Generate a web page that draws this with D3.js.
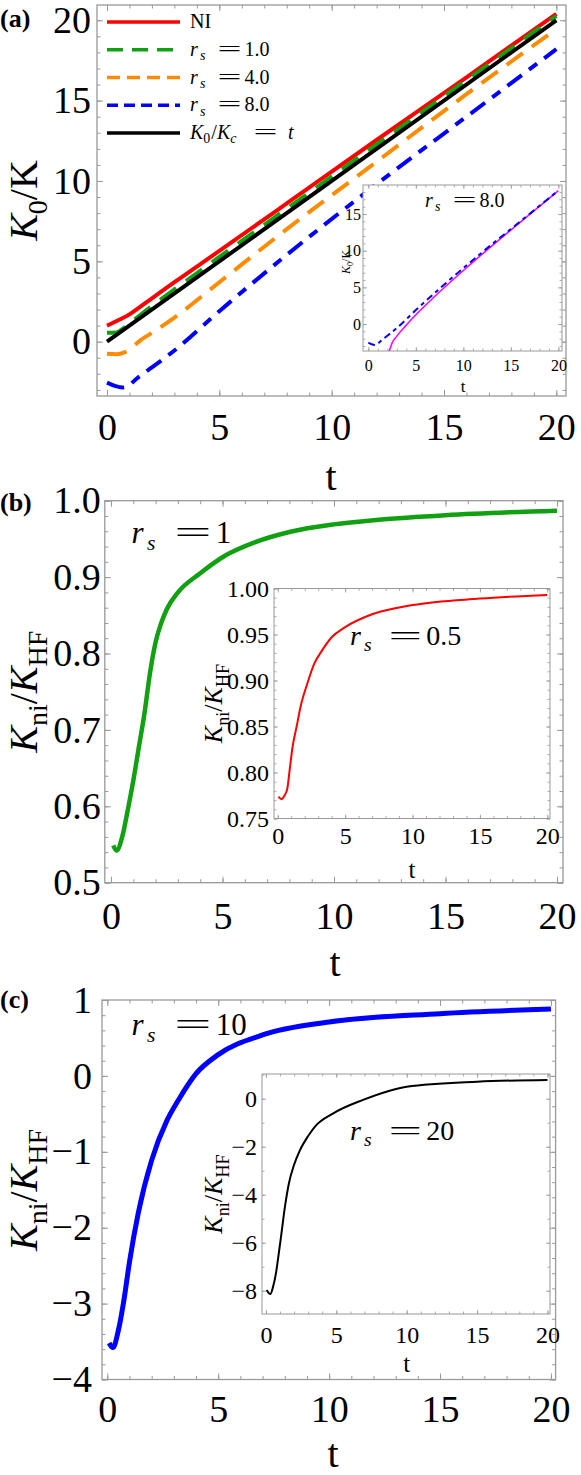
<!DOCTYPE html>
<html>
<head>
<meta charset="utf-8">
<script src="https://cdn.jsdelivr.net/npm/d3@7"></script>
<style>
  body { margin: 0; background: #fff; }
  text { font-family: "Liberation Serif", "Times New Roman", serif; }
</style>
</head>
<body>
<svg id="fig" width="581" height="1475" font-family="Liberation Serif"></svg>
<script>
// ---- data ----
// panel (a): K0/K versus t
const niT  = [0, 0.5, 1, 1.5, 2, 3, 5, 8, 12, 16, 20];
const niK  = [1.0, 1.33, 1.7, 2.2, 2.7, 3.7, 5.65, 8.6, 12.55, 16.45, 20.4];
const rs1T = [0, 0.4, 0.8, 1.2, 1.6, 2, 3, 5, 8, 12, 16, 20];
const rs1K = [0.55, 0.57, 0.9, 1.35, 1.8, 2.22, 3.25, 5.27, 8.27, 12.27, 16.27, 20.27];
const rs4T = [0, 0.4, 0.8, 1.2, 1.5, 2, 3, 5, 8, 12, 16, 20];
const rs4K = [-0.75, -0.78, -0.65, -0.25, 0.1, 0.55, 1.5, 3.7, 7.0, 11.2, 15.4, 19.45];
const rs8T = [0, 0.35, 0.7, 1.0, 1.25, 1.6, 2, 3, 5, 8, 12, 16, 20];
const rs8K = [-2.55, -2.75, -2.85, -2.7, -2.38, -2.0, -1.6, -0.55, 1.9, 5.4, 9.8, 14.0, 18.2];
const diagT = [0, 20];
const diagK = [0, 20];
// inset (a): magenta comparison curve for rs = 8
const magT = [2.2, 2.5, 3, 4, 5, 7, 10, 13, 16, 20];
const magK = [-3.7, -2.6, -1.65, -0.15, 1.25, 3.78, 7.3, 10.65, 13.9, 18.2];
// panel (b): Kni/KHF, rs = 1 and inset rs = 0.5
const bT = [0.1, 0.25, 0.5, 0.75, 1.0, 1.25, 1.5, 1.75, 2.0, 2.25, 2.5, 3, 4, 5, 6.5, 8, 10, 12, 15, 20];
const bK = [0.549, 0.542, 0.56, 0.595, 0.634, 0.678, 0.722, 0.775, 0.815, 0.84, 0.858, 0.88, 0.905, 0.926, 0.946, 0.959, 0.969, 0.975, 0.981, 0.987];
const bInT = [0.05, 0.27, 0.5, 0.7, 0.9, 1.1, 1.4, 1.7, 2.2, 2.7, 3.3, 4, 5, 7, 10, 15, 20];
const bInK = [0.7737, 0.771, 0.775, 0.782, 0.805, 0.828, 0.85, 0.872, 0.897, 0.918, 0.933, 0.947, 0.958, 0.972, 0.982, 0.989, 0.993];
// panel (c): Kni/KHF, rs = 10 and inset rs = 20
const cT = [0.08, 0.25, 0.5, 0.75, 1.0, 1.4, 2.0, 2.7, 3.2, 4, 5, 7, 10, 15, 20];
const cK = [-3.52, -3.58, -3.35, -2.95, -2.45, -1.8, -1.11, -0.58, -0.32, 0.03, 0.28, 0.54, 0.71, 0.82, 0.88];
const cInT = [0.05, 0.31, 0.5, 0.71, 0.9, 1.1, 1.35, 1.63, 2, 2.42, 3, 3.47, 4.79, 6.9, 10, 15, 20];
const cInK = [-7.97, -8.14, -7.85, -7.28, -6.5, -5.62, -4.5, -3.53, -2.75, -2.14, -1.55, -1.17, -0.61, -0.05, 0.5, 0.71, 0.78];

const tMajor = [0, 5, 10, 15, 20];
const tMinor = d3.range(0, 21, 1);

const svg = d3.select("#fig");
const GRAY = "#999";
let clipId = 0;

// sets up a framed Mathematica-style plot; returns scales and a clipped layer
function framePlot(p) {
  const g = svg.append("g");
  const x = d3.scaleLinear().domain(p.xd).range([p.x0, p.x1]);
  const y = d3.scaleLinear().domain(p.yd).range([p.y1, p.y0]);

  g.append("rect")
    .attr("x", p.x0).attr("y", p.y0)
    .attr("width", p.x1 - p.x0).attr("height", p.y1 - p.y0)
    .attr("fill", "#fff");

  const sides = [
    ["bottom", p.y1, "x", true],
    ["top", p.y0, "x", false],
    ["left", p.x0, "y", true],
    ["right", p.x1, "y", false]
  ];
  const make = { bottom: d3.axisBottom, top: d3.axisTop, left: d3.axisLeft, right: d3.axisRight };
  sides.forEach(([side, pos, dir, labelled]) => {
    const sc = dir === "x" ? x : y;
    const major = dir === "x" ? p.xMajor : p.yMajor;
    const minor = dir === "x" ? p.xMinor : p.yMinor;
    const tr = dir === "x" ? `translate(0,${pos})` : `translate(${pos},0)`;
    // minor ticks
    const gm = g.append("g").attr("transform", tr)
      .call(make[side](sc).tickValues(minor).tickSize(-p.minorLen).tickFormat(""));
    gm.select(".domain").remove();
    gm.selectAll("line").attr("stroke", GRAY).attr("stroke-width", p.tickW);
    // major ticks (+ labels on left / bottom)
    const ax = make[side](sc)
      .tickValues(major).tickSize(-p.majorLen)
      .tickPadding(dir === "x" ? p.xPad : p.yPad)
      .tickFormat(labelled ? d3.format(dir === "x" ? "d" : p.yFmt) : "");
    const gM = g.append("g").attr("transform", tr).call(ax);
    gM.select(".domain").remove();
    gM.attr("font-family", "Liberation Serif").attr("font-size", p.fs);
    gM.selectAll("line").attr("stroke", GRAY).attr("stroke-width", p.tickW);
    gM.selectAll("text").attr("fill", "#000");
  });

  g.append("rect")
    .attr("x", p.x0).attr("y", p.y0)
    .attr("width", p.x1 - p.x0).attr("height", p.y1 - p.y0)
    .attr("fill", "none").attr("stroke", GRAY).attr("stroke-width", p.frameW);

  const id = "clip" + (clipId++);
  svg.append("clipPath").attr("id", id).append("rect")
    .attr("x", p.x0).attr("y", p.y0)
    .attr("width", p.x1 - p.x0).attr("height", p.y1 - p.y0);
  const layer = g.append("g").attr("clip-path", `url(#${id})`);
  return { g, x, y, layer };
}

function curve(plot, ts, ks, color, width, dash) {
  const line = d3.line()
    .x(d => plot.x(d[0])).y(d => plot.y(d[1]))
    .curve(d3.curveMonotoneX);
  plot.layer.append("path")
    .attr("d", line(d3.zip(ts, ks)))
    .attr("fill", "none").attr("stroke", color)
    .attr("stroke-width", width)
    .attr("stroke-dasharray", dash || null)
    .attr("stroke-linejoin", "round");
}

// "r_s = value" with Mathematica's wide equals sign
function rsLabel(g, x, y, F, value) {
  g.append("text").attr("x", x).attr("y", y).attr("font-size", F)
    .attr("font-style", "italic").text("r");
  g.append("text").attr("x", x + 0.5 * F).attr("y", y + 0.22 * F)
    .attr("font-size", 0.7 * F).attr("font-style", "italic").text("s");
  g.append("text").attr("x", x + 1.38 * F).attr("y", y).attr("font-size", F)
    .attr("textLength", 1.2 * F).attr("lengthAdjust", "spacingAndGlyphs").text("=");
  g.append("text").attr("x", x + 2.72 * F).attr("y", y).attr("font-size", F).text(value);
}

// K_ni / K_HF (rotated y title)
function kniTitle(x, y, F) {
  const t = svg.append("text")
    .attr("transform", `translate(${x},${y}) rotate(-90)`)
    .attr("text-anchor", "middle").attr("font-size", F);
  t.append("tspan").attr("font-style", "italic").text("K");
  t.append("tspan").attr("font-size", 0.7 * F).attr("dy", 0.25 * F).text("ni");
  t.append("tspan").attr("dy", -0.25 * F).text("/");
  t.append("tspan").attr("font-style", "italic").text("K");
  t.append("tspan").attr("font-size", 0.7 * F).attr("dy", 0.25 * F).text("HF");
}

function k0Title(x, y, F) {
  const t = svg.append("text")
    .attr("transform", `translate(${x},${y}) rotate(-90)`)
    .attr("text-anchor", "middle").attr("font-size", F);
  t.append("tspan").attr("font-style", "italic").text("K");
  t.append("tspan").attr("font-size", 0.7 * F).attr("dy", 0.25 * F).text("0");
  t.append("tspan").attr("dy", -0.25 * F).text("/K");
}

function tTitle(x, y, F) {
  svg.append("text").attr("x", x).attr("y", y).attr("font-size", F)
    .attr("text-anchor", "middle").text("t");
}

function panelTag(x, y, txt) {
  svg.append("text").attr("x", x).attr("y", y).attr("font-size", 26)
    .attr("font-weight", "bold").text(txt);
}

const mainStyle = { majorLen: 6, minorLen: 3.5, tickW: 1, frameW: 1.3, fs: 38 };
const insetStyle = { majorLen: 4, minorLen: 2.5, tickW: 0.8, frameW: 1, fs: 24 };

// ---------------- panel (a) ----------------
const pa = framePlot(Object.assign({}, mainStyle, {
  x0: 97, x1: 566, y0: 5, y1: 396,
  xd: [-0.445, 20.43], yd: [-3.38, 20.95],
  xMajor: tMajor, xMinor: tMinor,
  yMajor: [0, 5, 10, 15, 20], yMinor: d3.range(-3, 21, 1),
  xPad: 17, yPad: 6, yFmt: "d"
}));
curve(pa, niT, niK, "#ff0000", 4);
curve(pa, rs1T, rs1K, "#11a011", 4, "20,12");
curve(pa, rs4T, rs4K, "#ff8c00", 4, "20,11");
curve(pa, rs8T, rs8K, "#0000ff", 4, "18,9,10,9");
curve(pa, diagT, diagK, "#000", 4);

// legend
const legendItems = [
  { color: "#ff0000", dash: null },
  { color: "#11a011", dash: "16,9" },
  { color: "#ff8c00", dash: "13,7" },
  { color: "#0000ff", dash: "11,6" },
  { color: "#000", dash: null }
];
const legY = d3.scalePoint().domain(d3.range(5)).range([22, 133]);
legendItems.forEach((it, i) => {
  pa.g.append("line")
    .attr("x1", 107).attr("x2", 180).attr("y1", legY(i)).attr("y2", legY(i))
    .attr("stroke", it.color).attr("stroke-width", 3.5)
    .attr("stroke-dasharray", it.dash);
});
pa.g.append("text").attr("x", 190).attr("y", legY(0) + 6).attr("font-size", 20).text("NI");
rsLabel(pa.g, 190, legY(1) + 6, 20, "1.0");
rsLabel(pa.g, 190, legY(2) + 6, 20, "4.0");
rsLabel(pa.g, 190, legY(3) + 6, 20, "8.0");
{
  const F = 20, x = 190, y = legY(4) + 6;
  const t = pa.g.append("text").attr("x", x).attr("y", y).attr("font-size", F);
  t.append("tspan").attr("font-style", "italic").text("K");
  t.append("tspan").attr("font-size", 0.7 * F).attr("dy", 0.22 * F).text("0");
  t.append("tspan").attr("dy", -0.22 * F).attr("dx", 1).text("/");
  t.append("tspan").attr("font-style", "italic").text("K");
  t.append("tspan").attr("font-style", "italic").attr("font-size", 0.7 * F).attr("dy", 0.22 * F).text("c");
  pa.g.append("text").attr("x", x + 3.17 * F).attr("y", y).attr("font-size", F)
    .attr("textLength", 1.2 * F).attr("lengthAdjust", "spacingAndGlyphs").text("=");
  pa.g.append("text").attr("x", x + 4.9 * F).attr("y", y).attr("font-size", F)
    .attr("font-style", "italic").text("t");
}

// inset (a)
const pai = framePlot(Object.assign({}, insetStyle, {
  x0: 363, x1: 562, y0: 185, y1: 351,
  xd: [-0.56, 20.38], yd: [-3.68, 18.96],
  xMajor: tMajor, xMinor: tMinor,
  yMajor: [0, 5, 10, 15], yMinor: d3.range(-3, 19, 1),
  xPad: 9, yPad: 2, yFmt: "d", fs: 16
}));
curve(pai, magT, magK, "#ff00ff", 1.5);
curve(pai, rs8T, rs8K, "#0000ff", 2, "7,4,4,4");
rsLabel(pai.g, 425, 207, 20, "8.0");

panelTag(0, 27, "(a)");
k0Title(37, 200.5, 40);
tTitle(331, 490, 40);
tTitle(463, 391.5, 17);
{
  const F = 12;
  const t = svg.append("text")
    .attr("transform", `translate(350,262) rotate(-90)`)
    .attr("text-anchor", "middle").attr("font-size", F);
  t.append("tspan").attr("font-style", "italic").text("K");
  t.append("tspan").attr("font-size", 0.7 * F).attr("dy", 0.25 * F).text("0");
  t.append("tspan").attr("dy", -0.25 * F).text("/K");
}

// ---------------- panel (b) ----------------
const pb = framePlot(Object.assign({}, mainStyle, {
  x0: 104.8, x1: 563, y0: 500.7, y1: 882.7,
  xd: [-0.28, 20.27], yd: [0.5, 1.0],
  xMajor: tMajor, xMinor: tMinor,
  yMajor: d3.range(0.5, 1.01, 0.1), yMinor: d3.range(0.5, 1.001, 0.02),
  xPad: 19, yPad: 4, yFmt: ".1f"
}));
curve(pb, bT, bK, "#11a011", 4.5);
rsLabel(pb.g, 131.5, 543, 31, "1");

const pbi = framePlot(Object.assign({}, insetStyle, {
  x0: 274, x1: 550, y0: 588.5, y1: 818.5,
  xd: [-0.28, 20.2], yd: [0.75, 1.0],
  xMajor: tMajor, xMinor: tMinor,
  yMajor: d3.range(0.75, 1.001, 0.05), yMinor: d3.range(0.75, 1.001, 0.01),
  xPad: 8, yPad: 5, yFmt: ".2f"
}));
curve(pbi, bInT, bInK, "#ff0000", 2);
rsLabel(pbi.g, 350, 645, 28, "0.5");

panelTag(0, 511, "(b)");
kniTitle(37, 691.7, 40);
tTitle(335, 976, 40);
tTitle(412, 878, 25);
kniTitle(222, 703.5, 26);

// ---------------- panel (c) ----------------
const pc = framePlot(Object.assign({}, mainStyle, {
  x0: 102, x1: 555.6, y0: 1000, y1: 1379.5,
  xd: [-0.24, 20.21], yd: [-4, 1],
  xMajor: tMajor, xMinor: tMinor,
  yMajor: d3.range(-4, 1.01, 1), yMinor: d3.range(-4, 1.01, 0.2),
  xPad: 15.5, yPad: 10, yFmt: "d"
}));
curve(pc, cT, cK, "#0000ff", 5);
rsLabel(pc.g, 131.5, 1035, 31, "10");

const pci = framePlot(Object.assign({}, insetStyle, {
  x0: 262, x1: 550, y0: 1074, y1: 1314,
  xd: [-0.28, 20.18], yd: [-8.97, 1.03],
  xMajor: tMajor, xMinor: tMinor,
  yMajor: [-8, -6, -4, -2, 0], yMinor: d3.range(-8, 1.01, 1),
  xPad: 12, yPad: 5, yFmt: "d"
}));
curve(pci, cInT, cInK, "#000", 2);
rsLabel(pci.g, 350, 1140, 28, "20");

panelTag(0, 1008, "(c)");
kniTitle(37, 1190, 40);
tTitle(333, 1467, 40);
tTitle(406.7, 1371.7, 25);
kniTitle(222, 1194, 26);
</script>
</body>
</html>
